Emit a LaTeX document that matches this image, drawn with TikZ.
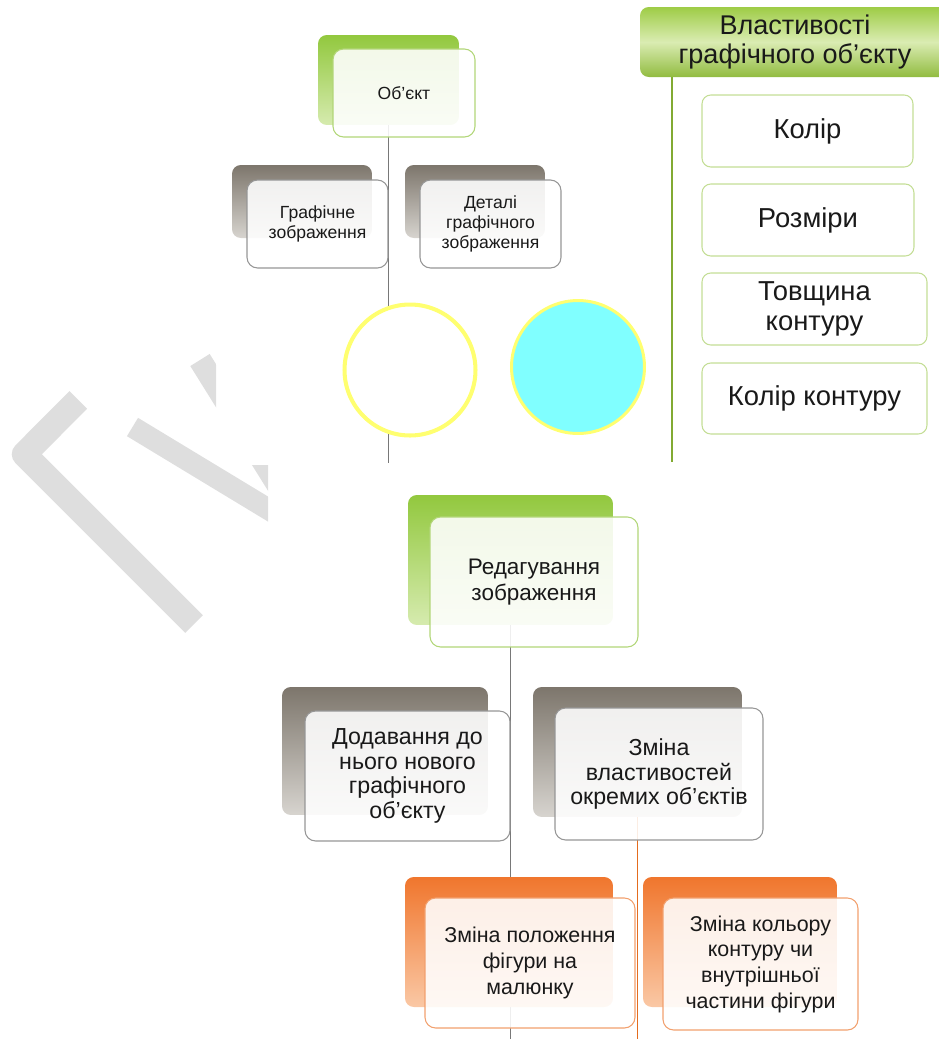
\documentclass[tikz,border=0pt]{standalone}
\usepackage{fontspec}
\setmainfont{Liberation Sans}
\usetikzlibrary{positioning,backgrounds}

\definecolor{txt}{RGB}{25,25,25}
\definecolor{gtop}{RGB}{146,200,62}
\definecolor{gbot}{RGB}{214,235,175}
\definecolor{ktop}{RGB}{125,118,108}
\definecolor{kbot}{RGB}{215,212,207}
\definecolor{otop}{RGB}{240,118,45}
\definecolor{obot}{RGB}{250,200,165}
\definecolor{gedge}{RGB}{178,214,120}
\definecolor{kedge}{RGB}{150,150,150}
\definecolor{oedge}{RGB}{242,160,110}
\definecolor{pedge}{RGB}{196,222,150}
\definecolor{htop}{RGB}{158,204,70}
\definecolor{hmid}{RGB}{218,236,178}
\definecolor{linkgrey}{RGB}{120,120,120}
\definecolor{linkgreen}{RGB}{130,170,50}
\definecolor{linkorange}{RGB}{228,108,30}
\definecolor{ylw}{RGB}{255,255,112}
\definecolor{cyanfill}{RGB}{128,255,255}
\definecolor{markgrey}{RGB}{222,222,222}

\begin{document}
\begin{tikzpicture}[x=0.02cm,y=-0.02cm,
every node/.style={text=txt},
back/.style={rounded corners=5pt,inner sep=0pt},
greenback/.style={back,top color=gtop,bottom color=gbot},
greyback/.style={back,top color=ktop,bottom color=kbot},
orangeback/.style={back,top color=otop,bottom color=obot},
front/.style={draw,rounded corners=6pt,fill=white,fill opacity=0.88,text opacity=1,align=center,inner sep=2pt,line width=0.6pt},
smalltxt/.style={font=\fontsize{10}{11.2}\selectfont},
midtxt/.style={font=\fontsize{12.2}{14.6}\selectfont},
edittxt/.style={font=\fontsize{12.8}{14.4}\selectfont},
bigtxt/.style={font=\fontsize{13.2}{13.9}\selectfont},
proptxt/.style={font=\fontsize{15.6}{17.3}\selectfont},
headtxt/.style={font=\fontsize{15.4}{16.2}\selectfont},
propbox/.style={draw=pedge,rounded corners=5pt,fill=white,align=center,inner sep=2pt,line width=0.6pt,proptxt},
link/.style={draw=linkgrey,line width=0.85pt},
markline/.style={draw=markgrey,line join=round}]

\useasboundingbox (0,0) rectangle (939,1039);

% top left: object
\node[greenback, minimum width=2.82cm, minimum height=1.8cm] (objback) at (388.5,80) {};
\node[greyback, minimum width=2.8cm, minimum height=1.46cm] (grafback) at (302,201.5) {};
\node[greyback, minimum width=2.8cm, minimum height=1.46cm] (detback) at (475,201.5) {};
\node[front, draw=gedge, smalltxt, minimum width=2.84cm, minimum height=1.76cm] (obj) at (404,93) {Об'єкт};
\node[front, draw=kedge, smalltxt, minimum width=2.82cm, minimum height=1.76cm] (graf) at (317.5,224) {Графічне\\зображення};
\node[front, draw=kedge, smalltxt, minimum width=2.82cm, minimum height=1.76cm] (det) at (490.5,224) {Деталі\\графічного\\зображення};
\node[circle, draw=ylw, line width=2.3pt, fill=white, minimum size=2.62cm] (blank) at (410,370) {};
\node[circle, draw=ylw, line width=1.7pt, fill=cyanfill, minimum size=2.66cm] (filled) at (578,367) {};
\coordinate (objend) at (388.5,463);

% top right: properties
\node[rounded corners=5pt, top color=htop, bottom color=htop!92!black, middle color=hmid, headtxt, align=center, minimum width=6.2cm, minimum height=1.4cm, inner sep=0pt] (head) at (795,42) {Властивості\\графічного об'єкту};
\node[propbox, minimum width=4.22cm, minimum height=1.44cm] (kolir) at (807.5,131) {Колір};
\node[propbox, minimum width=4.24cm, minimum height=1.44cm] (rozmiry) at (808,220) {Розміри};
\node[propbox, minimum width=4.5cm, minimum height=1.44cm] (tovsh) at (814.5,309) {Товщина\\контуру};
\node[propbox, minimum width=4.5cm, minimum height=1.42cm] (kkont) at (814.5,398.5) {Колір контуру};
\coordinate (headend) at (672,462);

% bottom: editing
\node[greenback, minimum width=4.1cm, minimum height=2.6cm] (editback) at (510.5,560) {};
\node[greyback, minimum width=4.12cm, minimum height=2.56cm] (addback) at (385,751) {};
\node[greyback, minimum width=4.18cm, minimum height=2.6cm] (propsback) at (637.5,752) {};
\node[orangeback, minimum width=4.16cm, minimum height=2.6cm] (posback) at (509,942) {};
\node[orangeback, minimum width=3.88cm, minimum height=2.6cm] (colback) at (740,942) {};
\node[front, draw=gedge, edittxt, minimum width=4.16cm, minimum height=2.6cm] (edit) at (534,582) {Редагування\\зображення};
\node[front, draw=kedge, bigtxt, minimum width=4.1cm, minimum height=2.6cm] (add) at (407.5,776) {Додавання до\\нього нового\\графічного\\об'єкту};
\node[front, draw=kedge, bigtxt, minimum width=4.16cm, minimum height=2.64cm] (props) at (659,774) {Зміна\\властивостей\\окремих об'єктів};
\node[front, draw=oedge, midtxt, minimum width=4.2cm, minimum height=2.6cm] (pos) at (530,963) {Зміна положення\\фігури на\\малюнку};
\node[front, draw=oedge, midtxt, minimum width=3.9cm, minimum height=2.64cm] (col) at (760.5,964) {Зміна кольору\\контуру чи\\внутрішньої\\частини фігури};
\coordinate (editend) at (510.5,1039);
\coordinate (propsend) at (637.5,1039);

\begin{scope}[on background layer]
% watermark
\draw[markline, line width=14.2pt] (78.3,400) -- (24.2,454.2) -- (194,624);
\begin{scope}
\clip (0,0) rectangle (216,1039) (216,465) rectangle (268,1039);
\draw[markline, line width=12.2pt] (132.5,427) -- (300,528.4);
\draw[markline, line width=13pt] (200,360) -- (299.7,520);
\end{scope}
% connectors
\draw[link] (objback.south) -- (objend);
\draw[link, draw=linkgreen, line width=1.1pt] (head.south -| headend) -- (headend);
\draw[link] (editback.south) -- (editend);
\draw[link, draw=linkorange] (propsback.south) -- (propsend);
\end{scope}
\end{tikzpicture}
\end{document}
